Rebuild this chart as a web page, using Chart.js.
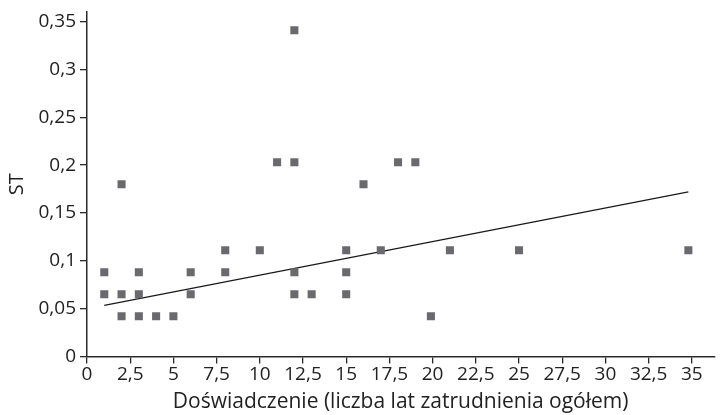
<!DOCTYPE html>
<html>
<head>
<meta charset="utf-8">
<script src="https://cdn.jsdelivr.net/npm/chart.js@4.4.1/dist/chart.umd.min.js"></script>
<style>
html,body{margin:0;padding:0;background:#fff;}
#wrap{width:720px;height:415px;}
</style>
</head>
<body>
<div id="wrap"><canvas id="c" width="720" height="415"></canvas></div>
<script>
// Data
const experienceYears = [1,1,2,2,2,3,3,3,4,5,6,6,8,8,10,11,12,12,12,12,13,15,15,15,16,17,18,19,19.9,21,25,34.8];
const stValues       = [0.088,0.065,0.065,0.042,0.180,0.088,0.065,0.042,0.042,0.042,0.088,0.065,0.111,0.088,0.111,0.203,0.341,0.203,0.088,0.065,0.065,0.111,0.088,0.065,0.180,0.111,0.203,0.203,0.042,0.111,0.111,0.111];
const trendX = [1, 34.8];
const trendY = [0.0535, 0.172];
const xAxisTitle = 'Doświadczenie (liczba lat zatrudnienia ogółem)';
const yAxisTitle = 'ST';

const points = experienceYears.map((x,i)=>({x:x, y:stValues[i]}));
const trend = trendX.map((x,i)=>({x:x, y:trendY[i]}));

const FONT = "'Open Sans', 'Noto Sans', sans-serif";
const fmt = v => Number(v.toFixed(2)).toString().replace('.', ',');

new Chart(document.getElementById('c'), {
  type: 'scatter',
  data: {
    datasets: [
      {
        data: trend,
        type: 'line',
        borderColor: '#1a1a1a',
        borderWidth: 1.3,
        pointRadius: 0,
        fill: false,
        order: 2
      },
      {
        data: points,
        pointStyle: 'rect',
        pointRadius: 5.7,
        pointHoverRadius: 5.7,
        backgroundColor: '#6a6a6e',
        borderWidth: 0,
        order: 1
      }
    ]
  },
  options: {
    responsive: false,
    animation: false,
    events: [],
    layout: { padding: { top: 0, right: 2, left: 0, bottom: 0 } },
    plugins: { legend: { display: false }, tooltip: { enabled: false } },
    scales: {
      x: {
        type: 'linear',
        min: 0, max: 36.3,
        afterFit: s => { s.height = 58.5; },
        border: { color: '#2a2a2a', width: 1.5 },
        grid: { drawOnChartArea: false, drawTicks: true, tickLength: 7, color: '#2a2a2a', lineWidth: 1.3 },
        ticks: { stepSize: 2.5, includeBounds: false, padding: 0, color: '#222', font: { family: FONT, size: 19 }, callback: v => fmt(v), maxRotation: 0, autoSkip: false },
        title: { display: true, text: xAxisTitle, color: '#222', font: { family: FONT, size: 21 }, padding: { top: 0, bottom: 0 } }
      },
      y: {
        type: 'linear',
        min: 0, max: 0.36,
        afterFit: s => { s.width = 87; s.paddingTop = 12; s.paddingBottom = 0; },
        border: { color: '#2a2a2a', width: 1.5 },
        grid: { drawOnChartArea: false, drawTicks: true, tickLength: 7, color: '#2a2a2a', lineWidth: 1.3 },
        ticks: { stepSize: 0.05, includeBounds: false, padding: 4, color: '#222', font: { family: FONT, size: 19 }, callback: v => fmt(v) },
        title: { display: true, text: yAxisTitle, color: '#222', font: { family: FONT, size: 20 }, padding: { top: 5, bottom: 0 } }
      }
    }
  }
});
</script>
</body>
</html>
